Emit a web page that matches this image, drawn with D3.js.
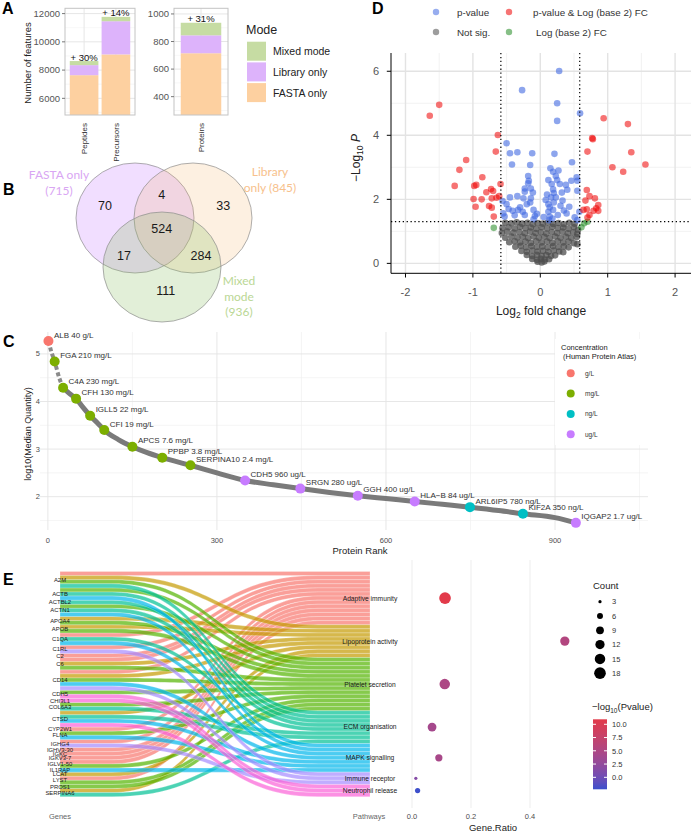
<!DOCTYPE html>
<html>
<head>
<meta charset="utf-8">
<script src="https://cdn.jsdelivr.net/npm/d3@7"></script>
<style>
  body { margin: 0; background: #fff; }
  text { font-family: Arial, "Liberation Sans", sans-serif; }
</style>
</head>
<body>
<svg id="fig" width="691" height="833"></svg>
<script>
// ---------------- A : features found per search mode
var featureTypes = ["Peptides", "Precursors", "Proteins"];
var fastaOnly    = [7640, 9110, 715];
var libraryOnly  = [710, 2350, 130];   // stacked on top of FASTA only
var mixedMode    = [290, 310, 91];     // stacked on top of library only
var gainLabels   = ["+ 30%", "+ 14%", "+ 31%"];
var modeNames    = ["Mixed mode", "Library only", "FASTA only"];
var modeColors   = ["#c6dca3", "#ddb3fb", "#fdd0a0"];

// ---------------- B : protein overlap
var vennNames  = ["FASTA only", "Library only", "Mixed mode"];
var vennTotals = [715, 845, 936];
var vennCounts = [70, 4, 33, 524, 17, 284, 111]; // F, F&L, L, F&L&M, F&M, L&M, M

// ---------------- C : rank plot
var rankCurve = [[1,5.27],[6,5.05],[12,4.84],[20,4.5],[27,4.29],[38,4.17],[50,4.06],[62,3.88],
  [75,3.70],[88,3.55],[100,3.40],[125,3.20],[150,3.05],[175,2.93],[203,2.82],[253,2.66],[300,2.50],
  [350,2.34],[400,2.25],[448,2.17],[500,2.09],[550,2.02],[600,1.96],[651,1.90],[700,1.84],
  [749,1.78],[800,1.71],[843,1.64],[900,1.56],[937,1.45]];
var markedGenes = ["ALB","FGA","C4A","CFH","IGLL5","CFI","APCS","PPBP","SERPINA10","CDH5","SRGN","GGH","HLA\u2212B","ARL6IP5","KIF2A","IQGAP2"];
var markedRank  = [1,12,27,50,75,100,150,203,253,350,448,550,651,749,843,937];
var markedQuant = [5.27,4.84,4.29,4.06,3.70,3.40,3.05,2.82,2.66,2.34,2.17,2.02,1.90,1.78,1.64,1.45];
var markedConc  = ["40 g/L","210 mg/L","230 mg/L","130 mg/L","22 mg/L","19 mg/L","7.6 mg/L","3.8 mg/L","2.4 mg/L",
  "960 ug/L","280 ug/L","400 ug/L","84 ug/L","780 ng/L","350 ng/L","1.7 ug/L"];
var concUnits  = ["g/L","mg/L","ng/L","ug/L"];
var concColors = ["#F8766D","#7CAE00","#00BFC4","#C77CFF"];

// ---------------- D : volcano  [log2FC, -log10 p]
var bothSig = [[-1.50,4.95],[-1.64,4.61],[0.94,4.53],[1.30,4.35],[0.77,3.91],[0.78,3.88],[-0.63,4.01],
  [-0.66,3.49],[0.70,3.49],[1.35,3.47],[-1.10,3.23],[1.56,3.09],[1.07,3.00],[1.23,2.86],[-1.20,2.92],
  [-0.86,2.69],[-1.27,2.42],[-0.98,2.42],[-0.95,2.45],[-0.59,2.48],[0.69,2.29],[-0.73,2.32],[-0.80,2.22],
  [-0.70,2.26],[-0.65,2.05],[-0.61,2.10],[-0.99,2.01],[-0.87,2.00],[-0.72,2.03],[0.73,2.10],[0.67,1.96],
  [0.81,2.03],[-0.96,1.77],[-0.76,1.79],[-0.72,1.74],[0.86,1.82],[0.83,1.72],[0.64,1.67],[0.69,1.69],
  [0.79,1.64],[0.86,1.64],[0.73,1.51],[0.70,1.43],[-0.69,1.46]];
var pOnly = [[0.28,6.01],[-0.27,5.41],[0.25,5.00],[0.25,4.45],[0.59,4.69],[-0.50,3.75],[-0.45,3.44],
  [-0.34,3.47],[-0.12,3.44],[0.21,3.42],[-0.42,3.09],[-0.15,3.07],[0.47,3.16],[0.15,2.97],[0.19,2.86],
  [0.23,2.73],[-0.18,2.73],[-0.17,2.58],[0.54,2.69],[0.46,2.58],[0.55,2.58],[0.17,2.48],[0.29,2.48],
  [0.38,2.45],[-0.23,2.34],[-0.14,2.34],[-0.11,2.21],[-0.23,2.24],[0.19,2.31],[0.32,2.21],[0.55,2.27],
  [-0.56,1.95],[-0.45,2.06],[-0.34,2.10],[-0.25,2.03],[-0.14,2.03],[0.08,1.98],[0.16,2.06],[0.23,2.06],
  [0.33,1.96],[0.43,1.77],[-0.55,1.56],[-0.53,1.46],[-0.47,1.70],[-0.41,1.64],[-0.33,1.67],[-0.26,1.61],
  [-0.23,1.51],[-0.10,1.67],[-0.08,1.48],[-0.10,1.38],[0.12,1.61],[0.19,1.67],[0.14,1.46],[0.13,1.35],
  [0.26,1.51],[0.39,1.56],[0.51,1.44],[0.58,1.61],[0.55,1.35],[0.12,1.85],[0.14,1.75],[0.20,1.90],
  [0.10,2.15],[0.25,2.60],[0.30,1.80],[-0.20,1.85],[-0.30,1.75],[-0.05,1.55],[0.05,1.45],[0.18,1.40],
  [-0.38,1.50],[-0.15,1.90],[0.35,1.65],[0.40,2.30],[-0.18,2.50],[0.12,2.60],[0.27,2.90],[0.20,2.20],[-0.50,1.85]];
var fcOnly = [[-0.69,1.11],[0.61,1.13],[0.70,1.30],[0.65,1.25]];
var notSig = [[-0.52,1.27],[-0.43,1.25],[-0.35,1.28],[-0.27,1.24],[-0.19,1.27],[-0.11,1.22],[-0.04,1.26],
  [0.04,1.24],[0.11,1.27],[0.19,1.23],[0.27,1.26],[0.35,1.22],[0.43,1.27],[0.51,1.24],
  [-0.56,1.10],[-0.47,1.13],[-0.38,1.09],[-0.30,1.14],[-0.22,1.10],[-0.14,1.12],[-0.06,1.08],[0.02,1.13],
  [0.10,1.09],[0.18,1.14],[0.26,1.10],[0.34,1.12],[0.42,1.08],[0.50,1.13],[0.56,1.05],
  [-0.57,0.95],[-0.49,0.99],[-0.40,0.96],[-0.31,0.98],[-0.23,0.94],[-0.15,0.99],[-0.07,0.95],[0.01,0.97],
  [0.09,0.93],[0.17,0.98],[0.25,0.95],[0.33,0.99],[0.41,0.94],[0.49,0.97],[0.55,0.92],
  [-0.52,0.80],[-0.43,0.84],[-0.34,0.81],[-0.26,0.83],[-0.18,0.79],[-0.10,0.84],[-0.02,0.80],[0.06,0.83],
  [0.14,0.79],[0.22,0.84],[0.30,0.80],[0.38,0.83],[0.46,0.79],[0.54,0.82],
  [-0.46,0.66],[-0.38,0.69],[-0.30,0.65],[-0.22,0.68],[-0.14,0.64],[-0.06,0.69],[0.02,0.65],[0.10,0.68],
  [0.18,0.64],[0.26,0.69],[0.34,0.65],[0.42,0.68],[0.50,0.63],[0.55,0.60],
  [-0.37,0.52],[-0.29,0.55],[-0.21,0.50],[-0.13,0.54],[-0.05,0.51],[0.03,0.53],[0.11,0.50],[0.19,0.54],
  [0.27,0.51],[0.35,0.53],[0.42,0.50],
  [-0.28,0.39],[-0.20,0.36],[-0.12,0.40],[-0.04,0.37],[0.04,0.39],[0.12,0.36],[0.20,0.40],[0.28,0.37],[0.34,0.35],
  [-0.20,0.26],[-0.12,0.23],[-0.05,0.27],[0.02,0.24],[0.09,0.26],[0.16,0.23],[0.22,0.25],
  [-0.12,0.14],[-0.05,0.11],[0.01,0.14],[0.07,0.12],[0.13,0.13],[-0.04,0.05],[0.02,0.03],[0.06,0.06]];

// ---------------- E : genes -> pathways, enrichment
var genes = ["A2M","ACTB","ACTBL2","ACTN1","APOA4","APOB","C1QA","C1RL","C2","C6","CD14","CDH5","CHI3L1",
  "COL6A3","CTSD","CYP2W1","FLNA","IGHG4","IGHV3-30","IGKC","IGKV3-7","IGLV1-50","IL1RAP","LCAT","LYST","PROS1","SERPINA6"];
var pathways = ["Adaptive immunity","Lipoprotein activity","Platelet secretion","ECM organisation",
  "MAPK signalling","Immune receptor","Neutrophil release"];
var geneLinks = [[0,1,2,3],[2,3,4],[3],[2,3,4],[1,2],[1,2],[0,3,4],[0,5],[0],[0,1,2],[0,1,2,4,5],[2,6],[6],
  [2,3],[1,3,4,6],[0],[2,4],[0,5],[0],[0],[0],[0,2],[4],[1],[0,2],[2],[1,3]];
var pathCount = [18, 12, 15, 11, 8, 3, 5];
var pathRatio = [0.112, 0.518, 0.111, 0.068, 0.091, 0.013, 0.019];
var pathLogP  = [10.9, 5.5, 5.0, 4.2, 4.5, 1.5, -2.2];
var pathColors = ["#F8766D","#C49A00","#53B400","#00C094","#00B6EB","#A58AFF","#FB61D7"];
var countBreaks = [3, 6, 9, 12, 15, 18];
var logPBreaks  = [10, 7.5, 5, 2.5, 0];

var svg = d3.select("#fig");

// panel letters
[["A",2,13.5],["B",3,195],["C",3,347],["D",372,13.5],["E",3,585]].forEach(function(p){
  svg.append("text").attr("x",p[1]).attr("y",p[2]).attr("font-size",16).attr("font-weight","bold").text(p[0]);
});

// =============== A
var stackKeys = ["fasta","library","mixed"];
var stackColor = {fasta: modeColors[2], library: modeColors[1], mixed: modeColors[0]};
var barRows = featureTypes.map(function(t,i){
  return {type:t, fasta:fastaOnly[i], library:libraryOnly[i], mixed:mixedMode[i], gain:gainLabels[i]};
});

function stackPanel(rows, left, right, yDomain, yMajor, yMinor, id) {
  var top = 8.3, bottom = 115;
  var x = d3.scaleBand().domain(rows.map(function(d){return d.type;}))
      .range([left,right]).paddingInner(0.1).paddingOuter(0.15);
  var y = d3.scaleLinear().domain(yDomain).range([bottom, top]);
  var g = svg.append("g");
  g.append("clipPath").attr("id",id).append("rect")
    .attr("x",left).attr("y",top).attr("width",right-left).attr("height",bottom-top);
  g.selectAll(null).data(yMinor).enter().append("line")
    .attr("x1",left).attr("x2",right).attr("y1",y).attr("y2",y)
    .attr("stroke","#f1f1f1").attr("stroke-width",0.6);
  g.selectAll(null).data(yMajor).enter().append("line")
    .attr("x1",left).attr("x2",right).attr("y1",y).attr("y2",y)
    .attr("stroke","#e6e6e6").attr("stroke-width",1);
  g.selectAll(null).data(rows).enter().append("line")
    .attr("x1",function(d){return x(d.type)+x.bandwidth()/2;})
    .attr("x2",function(d){return x(d.type)+x.bandwidth()/2;})
    .attr("y1",top).attr("y2",bottom).attr("stroke","#e6e6e6").attr("stroke-width",1);

  var series = d3.stack().keys(stackKeys)(rows);
  g.append("g").attr("clip-path","url(#"+id+")")
    .selectAll("g").data(series).enter().append("g")
    .attr("fill",function(d){return stackColor[d.key];})
    .selectAll("rect").data(function(d){return d;}).enter().append("rect")
    .attr("x",function(d){return x(d.data.type);})
    .attr("width",x.bandwidth())
    .attr("y",function(d){return y(d[1]);})
    .attr("height",function(d){return y(d[0])-y(d[1]);});

  g.append("rect").attr("x",left).attr("y",top).attr("width",right-left).attr("height",bottom-top)
    .attr("fill","none").attr("stroke","#c4c4c4").attr("stroke-width",1);

  g.selectAll(null).data(yMajor).enter().append("line")
    .attr("x1",left-3).attr("x2",left).attr("y1",y).attr("y2",y).attr("stroke","#777");
  g.selectAll(null).data(yMajor).enter().append("text")
    .attr("x",left-5).attr("y",function(d){return y(d)+3.4;})
    .attr("text-anchor","end").attr("font-size",9.5).attr("fill","#555").text(function(d){return d;});

  g.selectAll(null).data(rows).enter().append("text")
    .attr("transform",function(d){return "translate("+(x(d.type)+x.bandwidth()/2+3)+",123) rotate(-90)";})
    .attr("text-anchor","end").attr("font-size",8).attr("fill","#333").text(function(d){return d.type;});

  g.selectAll(null).data(rows).enter().append("text")
    .attr("x",function(d){return x(d.type)+x.bandwidth()/2;})
    .attr("y",function(d){return y(d.fasta+d.library+d.mixed)-0.5;})
    .attr("text-anchor","middle").attr("font-size",9.5).attr("fill","#111").text(function(d){return d.gain;});
}
stackPanel(barRows.slice(0,2), 65, 135, [4820,12375], [6000,8000,10000,12000], [5000,7000,9000,11000], "clipA1");
stackPanel(barRows.slice(2), 174, 228, [267,1041], [400,600,800,1000], [300,500,700,900], "clipA2");

svg.append("text").attr("transform","translate(31,63) rotate(-90)").attr("text-anchor","middle")
  .attr("font-size",9.5).attr("fill","#222").text("Number of features");

var modeLeg = svg.append("g");
modeLeg.append("text").attr("x",246).attr("y",33.5).attr("font-size",12.5).attr("fill","#222").text("Mode");
modeLeg.selectAll(null).data(modeNames).enter().append("rect")
  .attr("x",247).attr("y",function(d,i){return 41.7+i*20.7;}).attr("width",19).attr("height",19)
  .attr("fill",function(d,i){return modeColors[i];});
modeLeg.selectAll(null).data(modeNames).enter().append("text")
  .attr("x",273).attr("y",function(d,i){return 41.7+i*20.7+13.5;})
  .attr("font-size",10.5).attr("fill","#222").text(function(d){return d;});

// =============== B
var vennCircles = [{cx:135,cy:218,fill:"#c77cff",op:0.25,label:"#d9a6f3"},
                   {cx:193,cy:218,fill:"#f7b267",op:0.2,label:"#f7c18c"},
                   {cx:162,cy:267,fill:"#8cc063",op:0.25,label:"#bad795"}];
svg.append("g").selectAll("ellipse").data(vennCircles).enter().append("ellipse")
  .attr("cx",function(d){return d.cx;}).attr("cy",function(d){return d.cy;})
  .attr("rx",59).attr("ry",55)
  .attr("fill",function(d){return d.fill;}).attr("fill-opacity",function(d){return d.op;})
  .attr("stroke","#8c8c8c").attr("stroke-width",0.7);
var regionPos = [[105,205.7],[161.7,194],[223.3,205],[161.7,228.3],[124,255],[201,255],[165.7,290.7]];
svg.append("g").selectAll("text").data(vennCounts).enter().append("text")
  .attr("x",function(d,i){return regionPos[i][0];}).attr("y",function(d,i){return regionPos[i][1]+4.5;})
  .attr("text-anchor","middle").attr("font-size",12.5).attr("fill","#1a1a1a").text(function(d){return d;});
var vennLabelLines = [
  {x:59, y:179, lines:[vennNames[0], "(" + vennTotals[0] + ")"]},
  {x:270, y:176, lines:["Library", "only (" + vennTotals[1] + ")"]},
  {x:239, y:285, lines:["Mixed", "mode", "(" + vennTotals[2] + ")"]}];
vennLabelLines.forEach(function(l,i){
  var t = svg.append("text").attr("text-anchor","middle").attr("font-size",12)
    .attr("fill",vennCircles[i].label).style("font-family","Lato, 'Open Sans', sans-serif");
  l.lines.forEach(function(s,j){
    t.append("tspan").attr("x",l.x).attr("y",l.y+j*15.5).text(s);
  });
});

// =============== C
var cx = d3.scaleLinear().domain([-14,1065]).range([40,648]);
var cy = d3.scaleLinear().domain([1.3,5.46]).range([530,332]);
var gC = svg.append("g");
gC.selectAll(null).data([150,450,750,1050]).enter().append("line")
  .attr("x1",cx).attr("x2",cx).attr("y1",332).attr("y2",530).attr("stroke","#efefef").attr("stroke-width",0.6);
gC.selectAll(null).data([1.5,2.5,3.5,4.5]).enter().append("line")
  .attr("x1",40).attr("x2",648).attr("y1",cy).attr("y2",cy).attr("stroke","#efefef").attr("stroke-width",0.6);
gC.selectAll(null).data([0,300,600,900]).enter().append("line")
  .attr("x1",cx).attr("x2",cx).attr("y1",332).attr("y2",530).attr("stroke","#e4e4e4").attr("stroke-width",0.9);
gC.selectAll(null).data([2,3,4,5]).enter().append("line")
  .attr("x1",40).attr("x2",648).attr("y1",cy).attr("y2",cy).attr("stroke","#e4e4e4").attr("stroke-width",0.9);
gC.selectAll(null).data([0,300,600,900]).enter().append("text")
  .attr("x",cx).attr("y",543).attr("text-anchor","middle").attr("font-size",7.5).attr("fill","#4d4d4d")
  .text(function(d){return d;});
gC.selectAll(null).data([2,3,4,5]).enter().append("text")
  .attr("x",40).attr("y",function(d){return cy(d)+2.6;}).attr("text-anchor","end")
  .attr("font-size",7.5).attr("fill","#4d4d4d").text(function(d){return d;});
gC.append("text").attr("x",360).attr("y",554).attr("text-anchor","middle").attr("font-size",9.5)
  .attr("fill","#222").text("Protein Rank");
gC.append("text").attr("transform","translate(31,434) rotate(-90)").attr("text-anchor","middle")
  .attr("font-size",9).attr("fill","#222").text("log10(Median Quantity)");

var rankLine = d3.line().x(function(d){return cx(d[0]);}).y(function(d){return cy(d[1]);}).curve(d3.curveMonotoneX);
gC.append("path").attr("d",rankLine(rankCurve.filter(function(d){return d[0]>=27;})))
  .attr("fill","none").attr("stroke","#7a7a7a").attr("stroke-width",5).attr("stroke-linecap","round");
gC.append("path").attr("d",rankLine(rankCurve.filter(function(d){return d[0]<=27;})))
  .attr("fill","none").attr("stroke","#8a8a8a").attr("stroke-width",4).attr("stroke-dasharray","4,2.5");

var unitOf = function(s){ return s.split(" ")[1]; };
var concColor = d3.scaleOrdinal().domain(concUnits).range(concColors);
gC.selectAll(null).data(markedGenes).enter().append("circle")
  .attr("cx",function(d,i){return cx(markedRank[i]);}).attr("cy",function(d,i){return cy(markedQuant[i]);})
  .attr("r",5).attr("fill",function(d,i){return concColor(unitOf(markedConc[i]));});
gC.selectAll(null).data(markedGenes).enter().append("text")
  .attr("x",function(d,i){return cx(markedRank[i])+5.5;}).attr("y",function(d,i){return cy(markedQuant[i])-3.5;})
  .attr("font-size",8).attr("fill","#333").text(function(d,i){return d+" "+markedConc[i];});

var legC = gC.append("g");
legC.append("rect").attr("x",555).attr("y",339).attr("width",93).attr("height",106).attr("fill","#fff");
legC.append("text").attr("x",561).attr("y",350).attr("font-size",7.5).attr("fill","#222").text("Concentration");
legC.append("text").attr("x",563).attr("y",358.5).attr("font-size",7.5).attr("fill","#222").text("(Human Protein Atlas)");
legC.selectAll(null).data(concUnits).enter().append("circle")
  .attr("cx",570.7).attr("cy",function(d,i){return 373.3+i*20.3;}).attr("r",4).attr("fill",concColor);
legC.selectAll(null).data(concUnits).enter().append("text")
  .attr("x",585).attr("y",function(d,i){return 373.3+i*20.3+2.3;}).attr("font-size",6.5).attr("fill","#333")
  .text(function(d){return d;});

// =============== D
var vx = d3.scaleLinear().domain([-2.215,2.236]).range([391,691]);
var vy = d3.scaleLinear().domain([-0.31,6.57]).range([273.3,53]);
var gD = svg.append("g");
gD.selectAll(null).data([-1.5,-0.5,0.5,1.5]).enter().append("line")
  .attr("x1",vx).attr("x2",vx).attr("y1",53).attr("y2",273.3).attr("stroke","#efefef").attr("stroke-width",0.8);
gD.selectAll(null).data([1,3,5]).enter().append("line")
  .attr("x1",391).attr("x2",691).attr("y1",vy).attr("y2",vy).attr("stroke","#efefef").attr("stroke-width",0.8);
gD.selectAll(null).data([-2,-1,0,1,2]).enter().append("line")
  .attr("x1",vx).attr("x2",vx).attr("y1",53).attr("y2",273.3).attr("stroke","#e3e3e3").attr("stroke-width",1.4);
gD.selectAll(null).data([0,2,4,6]).enter().append("line")
  .attr("x1",391).attr("x2",691).attr("y1",vy).attr("y2",vy).attr("stroke","#e3e3e3").attr("stroke-width",1.4);

var volcanoGroups = [
  {pts:notSig, color:"#4d4d4d", op:0.75},
  {pts:fcOnly, color:"#228B22", op:0.55},
  {pts:pOnly, color:"#4169E1", op:0.6},
  {pts:bothSig, color:"#EE0000", op:0.55}];
volcanoGroups.forEach(function(grp){
  gD.append("g").selectAll("circle").data(grp.pts).enter().append("circle")
    .attr("cx",function(d){return vx(d[0]);}).attr("cy",function(d){return vy(d[1]);})
    .attr("r",3.3).attr("fill",grp.color).attr("fill-opacity",grp.op);
});

gD.selectAll(null).data([-0.585,0.585]).enter().append("line")
  .attr("x1",vx).attr("x2",vx).attr("y1",53).attr("y2",273.3)
  .attr("stroke","#000").attr("stroke-width",1.2).attr("stroke-dasharray","1.3,2.6");
gD.append("line").attr("x1",391).attr("x2",691).attr("y1",vy(1.301)).attr("y2",vy(1.301))
  .attr("stroke","#000").attr("stroke-width",1.2).attr("stroke-dasharray","1.3,2.6");

gD.append("line").attr("x1",391).attr("x2",391).attr("y1",53).attr("y2",273.3).attr("stroke","#000").attr("stroke-width",1);
gD.append("line").attr("x1",391).attr("x2",691).attr("y1",273.3).attr("y2",273.3).attr("stroke","#000").attr("stroke-width",1);
gD.selectAll(null).data([-2,-1,0,1,2]).enter().append("line")
  .attr("x1",vx).attr("x2",vx).attr("y1",273.3).attr("y2",277.5).attr("stroke","#000");
gD.selectAll(null).data([0,2,4,6]).enter().append("line")
  .attr("x1",386.8).attr("x2",391).attr("y1",vy).attr("y2",vy).attr("stroke","#000");
gD.selectAll(null).data([-2,-1,0,1,2]).enter().append("text")
  .attr("x",vx).attr("y",296).attr("text-anchor","middle").attr("font-size",11).attr("fill","#555")
  .text(function(d){return d;});
gD.selectAll(null).data([0,2,4,6]).enter().append("text")
  .attr("x",379).attr("y",function(d){return vy(d)+4;}).attr("text-anchor","end").attr("font-size",11)
  .attr("fill","#555").text(function(d){return d;});

var xt = gD.append("text").attr("x",541).attr("y",315).attr("text-anchor","middle").attr("font-size",12).attr("fill","#222");
xt.append("tspan").text("Log");
xt.append("tspan").attr("font-size",8.5).attr("dy",3).text("2");
xt.append("tspan").attr("dy",-3).text(" fold change");
var yt = gD.append("text").attr("transform","translate(360,158) rotate(-90)").attr("text-anchor","middle")
  .attr("font-size",12).attr("fill","#222");
yt.append("tspan").text("\u2212Log");
yt.append("tspan").attr("font-size",8.5).attr("dy",3).text("10");
yt.append("tspan").attr("dy",-3).attr("font-style","italic").text(" P");

var volLegend = [["p-value","#4169E1",436,12,457],["p-value & Log (base 2) FC","#EE0000",509,12,533],
                 ["Not sig.","#4d4d4d",436,32,457],["Log (base 2) FC","#228B22",509,32,536]];
volLegend.forEach(function(l){
  gD.append("circle").attr("cx",l[2]).attr("cy",l[3]).attr("r",3.2).attr("fill",l[1]).attr("fill-opacity",0.55);
  gD.append("text").attr("x",l[4]).attr("y",l[3]+3.5).attr("font-size",9.8).attr("fill","#333").text(l[0]);
});

// =============== E : alluvial
var eTop = 571.5, eBottom = 796.7, eLeft = 60, eRight = 370, knotL = 112, knotR = 318;
var links = [];
geneLinks.forEach(function(ps, gi){ ps.forEach(function(pi){ links.push({g:gi, p:pi}); }); });
var ey = d3.scaleLinear().domain([0, links.length]).range([eTop, eBottom]);

var pos = 0, geneMid = [];
genes.forEach(function(name, gi){
  var mine = links.filter(function(l){return l.g===gi;}).sort(function(a,b){return a.p-b.p;});
  geneMid.push(pos + mine.length/2);
  mine.forEach(function(l){ l.y0 = pos++; });
});
pos = 0;
var pathMid = [];
pathways.forEach(function(name, pi){
  var mine = links.filter(function(l){return l.p===pi;}).sort(function(a,b){return a.g-b.g;});
  pathMid.push(pos + mine.length/2);
  mine.forEach(function(l){ l.y1 = pos++; });
});

function ribbon(l){
  var a0=ey(l.y0), a1=ey(l.y0+1), b0=ey(l.y1), b1=ey(l.y1+1), xm=(knotL+knotR)/2;
  var p = d3.path();
  p.moveTo(eLeft,a0); p.lineTo(knotL,a0); p.bezierCurveTo(xm,a0,xm,b0,knotR,b0); p.lineTo(eRight,b0);
  p.lineTo(eRight,b1); p.lineTo(knotR,b1); p.bezierCurveTo(xm,b1,xm,a1,knotL,a1); p.lineTo(eLeft,a1);
  p.closePath();
  return p.toString();
}
var gE = svg.append("g");
gE.selectAll("path").data(links.slice().sort(function(a,b){return a.p-b.p;})).enter().append("path")
  .attr("d",ribbon).attr("fill",function(d){return pathColors[d.p];}).attr("fill-opacity",0.7)
  .attr("stroke","#fff").attr("stroke-width",0.35).attr("stroke-opacity",0.7);

gE.selectAll(null).data(genes).enter().append("text")
  .attr("x",eLeft).attr("y",function(d,i){return ey(geneMid[i])+2.1;})
  .attr("text-anchor","middle").attr("font-size",5.9).attr("fill","#1a1a1a").text(function(d){return d;});
gE.selectAll(null).data(pathways).enter().append("text")
  .attr("x",eRight).attr("y",function(d,i){return ey(pathMid[i])+2.4;})
  .attr("text-anchor","middle").attr("font-size",6.7).attr("fill","#1a1a1a").text(function(d){return d;});
gE.append("text").attr("x",eLeft).attr("y",819).attr("text-anchor","middle").attr("font-size",7.5).attr("fill","#666").text("Genes");
gE.append("text").attr("x",369).attr("y",819).attr("text-anchor","middle").attr("font-size",7.5).attr("fill","#666").text("Pathways");

// enrichment dots
var dx = d3.scaleLinear().domain([0,0.2]).range([412,471]);
var area = d3.scaleLinear().domain([3,18]).range([2.6,34]);
var rOf = function(c){ return Math.sqrt(area(c)); };
var pColor = d3.scaleLinear().domain([-2.26,10.94]).range(["#3b4fcc","#e23a4a"]).interpolate(d3.interpolateLab);
gE.selectAll(null).data([0,0.2,0.4]).enter().append("line")
  .attr("x1",dx).attr("x2",dx).attr("y1",560).attr("y2",808).attr("stroke","#ebebeb").attr("stroke-width",0.9);
gE.selectAll(null).data(pathways).enter().append("circle")
  .attr("cx",function(d,i){return dx(pathRatio[i]);}).attr("cy",function(d,i){return ey(pathMid[i]);})
  .attr("r",function(d,i){return rOf(pathCount[i]);}).attr("fill",function(d,i){return pColor(pathLogP[i]);});
gE.selectAll(null).data([0,0.2,0.4]).enter().append("text")
  .attr("x",dx).attr("y",819).attr("text-anchor","middle").attr("font-size",7.5).attr("fill","#4d4d4d")
  .text(function(d){return d.toFixed(1);});
gE.append("text").attr("x",493).attr("y",831).attr("text-anchor","middle").attr("font-size",9.5).attr("fill","#222").text("Gene.Ratio");

gE.append("text").attr("x",593).attr("y",589).attr("font-size",9.5).attr("fill","#222").text("Count");
gE.selectAll(null).data(countBreaks).enter().append("circle")
  .attr("cx",600).attr("cy",function(d,i){return 601.7+i*14.3;}).attr("r",rOf).attr("fill","#000");
gE.selectAll(null).data(countBreaks).enter().append("text")
  .attr("x",612).attr("y",function(d,i){return 601.7+i*14.3+2.7;}).attr("font-size",7.5).attr("fill","#333")
  .text(function(d){return d;});

var pt = gE.append("text").attr("x",592).attr("y",710).attr("font-size",9.5).attr("fill","#222");
pt.append("tspan").text("\u2212log");
pt.append("tspan").attr("font-size",6.5).attr("dy",2.5).text("10");
pt.append("tspan").attr("dy",-2.5).text("(Pvalue)");
var barY = d3.scaleLinear().domain(pColor.domain()).range([789.3,719.3]);
var grad = svg.append("defs").append("linearGradient").attr("id","pgrad")
  .attr("x1",0).attr("y1",1).attr("x2",0).attr("y2",0);
d3.range(0,1.0001,0.1).forEach(function(t){
  var v = pColor.domain()[0] + t*(pColor.domain()[1]-pColor.domain()[0]);
  grad.append("stop").attr("offset",t).attr("stop-color",pColor(v));
});
gE.append("rect").attr("x",593).attr("y",719.3).attr("width",14).attr("height",70).attr("fill","url(#pgrad)");
logPBreaks.forEach(function(b){
  gE.append("line").attr("x1",593).attr("x2",596).attr("y1",barY(b)).attr("y2",barY(b)).attr("stroke","#fff");
  gE.append("line").attr("x1",604).attr("x2",607).attr("y1",barY(b)).attr("y2",barY(b)).attr("stroke","#fff");
  gE.append("text").attr("x",612).attr("y",barY(b)+2.7).attr("font-size",7.5).attr("fill","#333").text(b.toFixed(1));
});
</script>
</body>
</html>
